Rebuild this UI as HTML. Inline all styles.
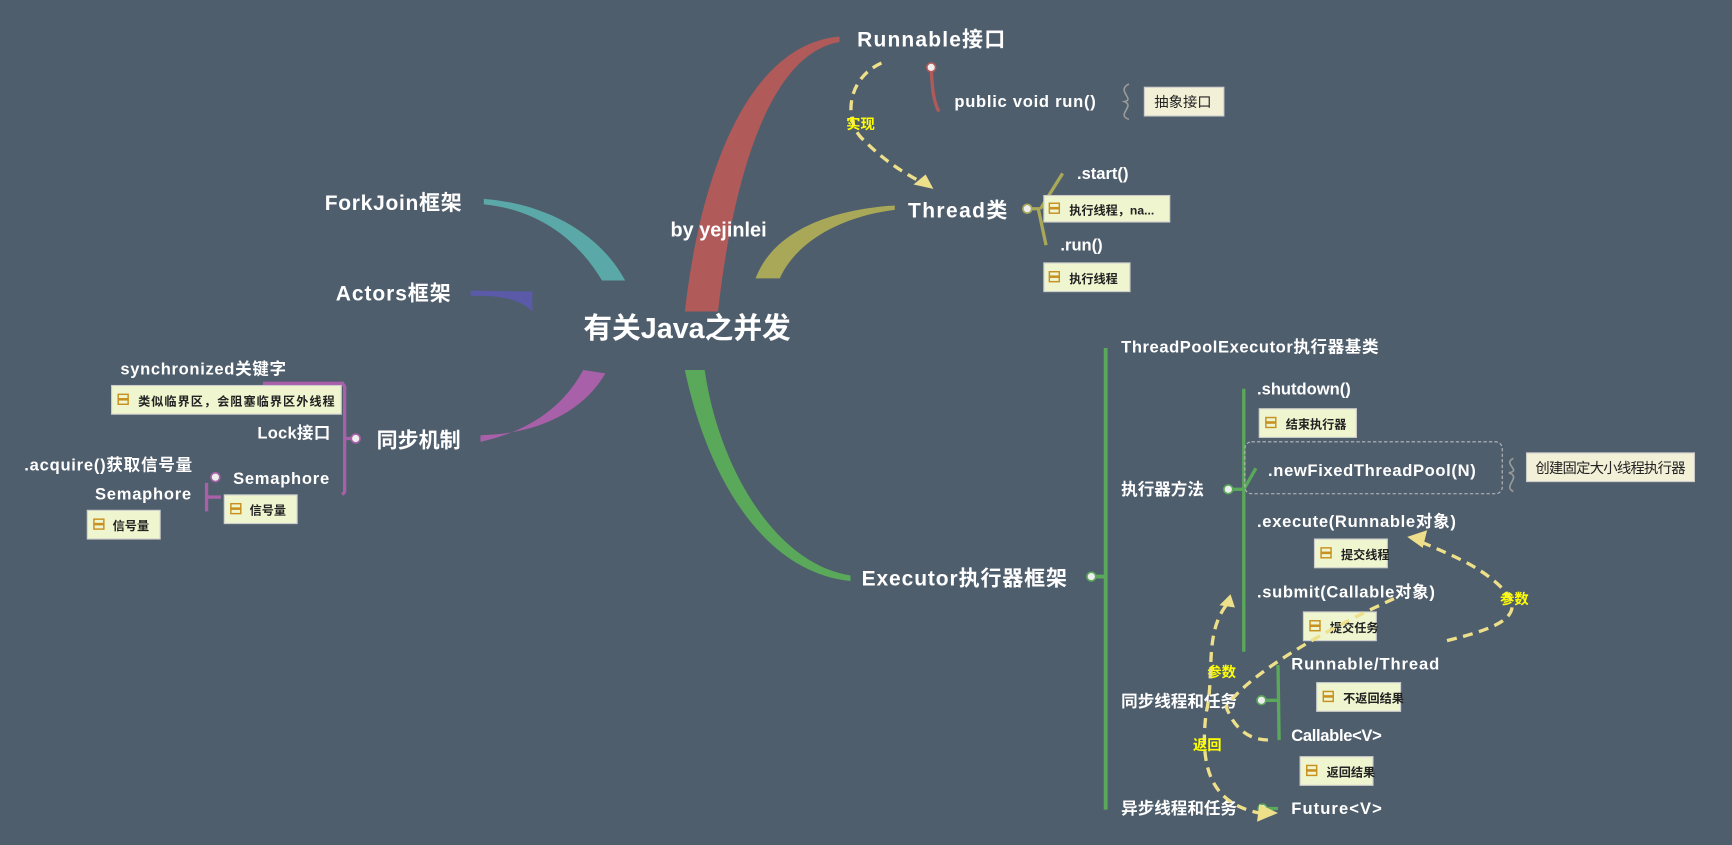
<!DOCTYPE html>
<html><head><meta charset="utf-8"><style>
html,body{margin:0;padding:0;background:#4f5e6c;}
svg{display:block;}
text{font-family:"Liberation Sans","Noto Sans CJK SC",sans-serif;font-weight:bold;fill:#fff;}
.n{font-size:11px;fill:#222;font-weight:bold;}
.y{fill:#ffff00;font-size:13px;}
</style></head><body>
<svg width="1732" height="845" viewBox="0 0 1568 765" xmlns="http://www.w3.org/2000/svg">
<rect width="1568" height="765" fill="#4f5e6c"/>
<defs>
<g id="ic"><rect x="0" y="0" width="9" height="4" fill="none" stroke="#c8901e" stroke-width="1.3"/><rect x="0" y="5" width="9" height="4" fill="none" stroke="#c8901e" stroke-width="1.3"/></g>
</defs>
<!-- main branches -->
<path d="M620 282 C635 150 680 40 760 33 L760 38 C700 48 665 150 650 282 Z" fill="#b05a5a"/>
<path d="M684 252 C700 210 750 190 810 186 L810 190 C760 196 720 220 706 252 Z" fill="#a8a858"/>
<path d="M438 180 C500 185 545 215 566 254 L545 254 C525 220 490 190 438 185 Z" fill="#5aa8a8"/>
<path d="M426 263 L482 264 L482 282 C470 270 450 267 426 268 Z" fill="#5a5aa8"/>
<path d="M435 394 C490 393 530 370 548 338 L528 335 C510 368 480 390 435 400 Z" fill="#a860a8"/>
<path d="M638 335 C650 420 700 510 770 521 L770 526 C690 518 640 430 620 335 Z" fill="#5aa85a"/>
<text x="622" y="306" font-size="26" text-anchor="middle">有关Java之并发</text>
<text x="607" y="214" font-size="18">by yejinlei</text>
<!-- Runnable -->
<text x="776" y="42" font-size="19" textLength="134">Runnable接口</text>
<path d="M843 62 C844 80 845 92 850 101" stroke="#b05a5a" stroke-width="3" fill="none"/>
<circle cx="843" cy="61" r="4" fill="#eee" stroke="#b05a5a" stroke-width="1.5"/>
<text x="864" y="97" font-size="15" textLength="128">public void run()</text>
<path d="M1022 76 C1010 82 1028 90 1018 92 C1028 96 1010 104 1022 108" stroke="#999" stroke-width="1.5" fill="none"/>
<rect x="1036" y="79" width="72" height="26" fill="#f3f0d8" stroke="#ccc"/>
<text x="1045" y="97" class="n" style="font-size:13px;font-weight:normal">抽象接口</text>
<path d="M798 57 C765 72 765 110 780 125 C800 145 815 155 840 168" stroke="#eee08a" stroke-width="3" stroke-dasharray="9,6" fill="none"/>
<path d="M845 171 L827 167 L838 158 Z" fill="#eee08a"/>
<text x="766" y="117" class="y">实现</text>
<!-- Thread -->
<text x="822" y="197" font-size="19" textLength="90">Thread类</text>
<path d="M930 189 L942 189 M942 189 L962 157 M940 189 L947 222" stroke="#a8a858" stroke-width="3" fill="none"/>
<circle cx="930" cy="189" r="4" fill="#eee" stroke="#a8a858" stroke-width="1.5"/>
<text x="975" y="162" font-size="15">.start()</text>
<rect x="945" y="177" width="114" height="24" fill="#eef5cf" stroke="#ccc"/><use href="#ic" x="950" y="184"/>
<text x="968" y="194" class="n">执行线程，na...</text>
<text x="960" y="227" font-size="15">.run()</text>
<rect x="945" y="238" width="78" height="26" fill="#eef5cf" stroke="#ccc"/><use href="#ic" x="950" y="246"/>
<text x="968" y="256" class="n">执行线程</text>
<!-- left -->
<text x="294" y="190" font-size="19" textLength="124">ForkJoin框架</text>
<text x="304" y="272" font-size="19" textLength="104">Actors框架</text>
<text x="341" y="405" font-size="19">同步机制</text>
<circle cx="322" cy="397" r="4" fill="#eee" stroke="#a860a8" stroke-width="1.5"/>
<path d="M238 347 L310 347 L312 350 L312 445 L310 448 M312 397 L318 397" stroke="#a860a8" stroke-width="3" fill="none"/>
<text x="109" y="339" font-size="15" textLength="150">synchronized关键字</text>
<rect x="101" y="349" width="208" height="26" fill="#eef5cf" stroke="#ccc"/><use href="#ic" x="107" y="357"/>
<text x="125" y="367" class="n" textLength="178">类似临界区，会阻塞临界区外线程</text>
<text x="233" y="397" font-size="15" textLength="66">Lock接口</text>
<text x="211" y="438" font-size="15" textLength="87">Semaphore</text>
<circle cx="195" cy="432" r="4" fill="#eee" stroke="#a860a8" stroke-width="1.5"/>
<path d="M187 437 L187 463 M187 450 L200 450" stroke="#a860a8" stroke-width="3" fill="none"/>
<text x="22" y="426" font-size="15" textLength="152">.acquire()获取信号量</text>
<text x="86" y="452" font-size="15" textLength="87">Semaphore</text>
<rect x="79" y="462" width="66" height="26" fill="#eef5cf" stroke="#ccc"/><use href="#ic" x="85" y="470"/>
<text x="102" y="480" class="n">信号量</text>
<rect x="203" y="448" width="66" height="26" fill="#eef5cf" stroke="#ccc"/><use href="#ic" x="209" y="456"/>
<text x="226" y="466" class="n">信号量</text>
<!-- Executor -->
<text x="780" y="530" font-size="19" textLength="186">Executor执行器框架</text>
<circle cx="988" cy="522" r="4" fill="#eee" stroke="#5aa85a" stroke-width="1.5"/>
<path d="M1001 315 L1001 733 M992 522 L1001 522" stroke="#5aa85a" stroke-width="3.5" fill="none"/>
<text x="1015" y="319" font-size="15" textLength="233">ThreadPoolExecutor执行器基类</text>
<text x="1015" y="448" font-size="15">执行器方法</text>
<circle cx="1112" cy="443" r="4" fill="#eee" stroke="#5aa85a" stroke-width="1.5"/>
<path d="M1126 352 L1126 590 M1116 443 L1126 443 L1137 424" stroke="#5aa85a" stroke-width="3" fill="none"/>
<text x="1138" y="357" font-size="15">.shutdown()</text>
<rect x="1140" y="370" width="88" height="26" fill="#eef5cf" stroke="#ccc"/><use href="#ic" x="1146" y="378"/>
<text x="1164" y="388" class="n">结束执行器</text>
<rect x="1127" y="400" width="233" height="47" rx="6" fill="none" stroke="#bbb" stroke-dasharray="3,2"/>
<text x="1148" y="431" font-size="15" textLength="188">.newFixedThreadPool(N)</text>
<path d="M1370 415 C1360 420 1378 426 1366 428 C1378 432 1360 440 1370 445" stroke="#999" stroke-width="1.5" fill="none"/>
<rect x="1382" y="410" width="152" height="26" fill="#f3f0d8" stroke="#ccc"/>
<text x="1390" y="428" class="n" style="font-size:13px;font-weight:normal" textLength="136">创建固定大小线程执行器</text>
<text x="1138" y="477" font-size="15" textLength="180">.execute(Runnable对象)</text>
<rect x="1190" y="488" width="66" height="26" fill="#eef5cf" stroke="#ccc"/><use href="#ic" x="1196" y="496"/>
<text x="1214" y="506" class="n">提交线程</text>
<text x="1138" y="541" font-size="15" textLength="161">.submit(Callable对象)</text>
<rect x="1180" y="554" width="66" height="26" fill="#eef5cf" stroke="#ccc"/><use href="#ic" x="1186" y="562"/>
<text x="1204" y="572" class="n">提交任务</text>
<text x="1015" y="640" font-size="15">同步线程和任务</text>
<circle cx="1142" cy="634" r="4" fill="#eee" stroke="#5aa85a" stroke-width="1.5"/>
<path d="M1157 602 L1158 670 M1146 634 L1157 634" stroke="#5aa85a" stroke-width="3" fill="none"/>
<text x="1169" y="606" font-size="15" textLength="134">Runnable/Thread</text>
<rect x="1192" y="618" width="76" height="26" fill="#eef5cf" stroke="#ccc"/><use href="#ic" x="1198" y="626"/>
<text x="1216" y="636" class="n">不返回结果</text>
<text x="1169" y="671" font-size="15" textLength="82">Callable&lt;V&gt;</text>
<rect x="1177" y="685" width="66" height="26" fill="#eef5cf" stroke="#ccc"/><use href="#ic" x="1183" y="693"/>
<text x="1201" y="703" class="n">返回结果</text>
<text x="1015" y="737" font-size="15">异步线程和任务</text>
<circle cx="1143" cy="732" r="4" fill="#eee" stroke="#5aa85a" stroke-width="1.5"/>
<path d="M1147 732 L1157 732" stroke="#5aa85a" stroke-width="3"/>
<text x="1169" y="737" font-size="15" textLength="82">Future&lt;V&gt;</text>
<!-- dashed connectors -->
<path d="M1310 580 C1350 570 1380 560 1365 538 C1345 515 1320 505 1285 490" stroke="#eee08a" stroke-width="3" stroke-dasharray="9,6" fill="none"/>
<path d="M1274 486 L1292 480 L1288 496 Z" fill="#eee08a"/>
<text x="1358" y="547" class="y">参数</text>
<path d="M1262 542 C1200 570 1130 610 1110 640 C1120 665 1135 670 1150 670" stroke="#eee08a" stroke-width="3" stroke-dasharray="9,6" fill="none"/>
<text x="1093" y="613" class="y">参数</text>
<path d="M1110 548 C1090 575 1100 610 1092 645 C1085 700 1100 728 1140 736" stroke="#eee08a" stroke-width="3" stroke-dasharray="9,6" fill="none"/>
<path d="M1114 538 L1118 550 L1104 548 Z" fill="#eee08a"/>
<path d="M1157 736 L1140 728 L1138 744 Z" fill="#eee08a"/>
<text x="1080" y="679" class="y">返回</text>
</svg>
</body></html>
